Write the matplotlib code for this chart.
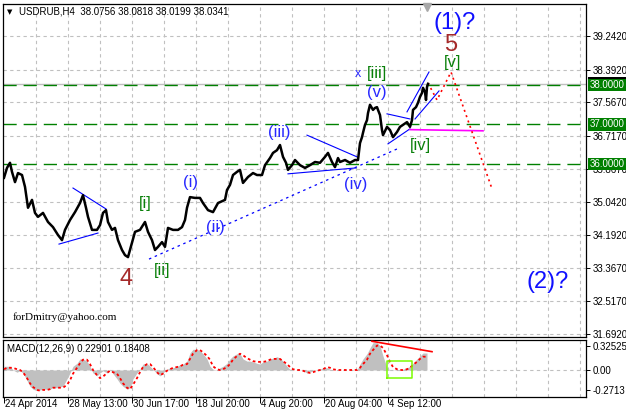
import matplotlib
matplotlib.use('Agg')
import matplotlib.pyplot as plt
from matplotlib.transforms import blended_transform_factory as btf

# ---------------- data ----------------
symbol_header = "USDRUB,H4  38.0756 38.0818 38.0199 38.0341"
macd_header = "MACD(12,26,9) 0.22901 0.18408"
watermark = "forDmitry@yahoo.com"

price_bar = [0, 6, 12, 16, 22, 28, 36, 42, 48, 56,
             62, 68, 78, 88, 98, 108, 116, 122, 132, 142,
             152, 158, 164, 168, 176, 186, 192, 198, 204, 208,
             216, 222, 228, 236, 242, 248, 256, 262, 272, 282,
             288, 296, 302, 308, 316, 322, 328, 338, 348, 356,
             362, 366, 372, 382, 392, 398, 408, 418, 428, 442,
             446, 452, 458, 466, 472, 478, 488, 498, 506, 516,
             522, 532, 538, 546, 552, 558, 564, 568, 576, 582,
             592, 602, 612, 622, 632, 642, 648, 656, 662, 668,
             672, 682, 692, 702, 708, 712, 716, 718, 722, 726,
             728, 732, 738, 742, 746, 748, 752, 756, 758, 766,
             772, 778, 786, 792, 798, 806, 812, 816, 818, 824,
             828, 832, 836, 838, 842, 844, 846, 848]
price_close = [35.65, 35.90, 36.03, 35.80, 35.54, 35.77, 35.72, 35.42, 34.89, 35.09,
               34.76, 34.66, 34.76, 34.53, 34.40, 34.20, 34.07, 34.33, 34.58, 34.78,
               35.01, 35.21, 34.89, 34.66, 34.33, 34.33, 34.45, 34.76, 34.83, 34.53,
               34.33, 34.38, 34.07, 33.82, 33.69, 33.64, 34.00, 34.28, 34.33, 34.53,
               34.28, 34.07, 33.82, 33.90, 34.02, 33.90, 34.38, 34.33, 34.33, 34.40,
               34.58, 34.89, 35.16, 35.14, 35.14, 35.01, 34.83, 34.78, 35.01, 35.09,
               35.34, 35.47, 35.72, 35.80, 35.85, 35.52, 35.67, 35.77, 35.72, 35.72,
               35.97, 36.15, 36.28, 36.35, 36.48, 36.18, 36.03, 35.85, 35.97, 36.10,
               35.97, 35.90, 35.97, 36.05, 36.03, 36.18, 36.28, 36.05, 35.92, 36.15,
               36.05, 36.10, 36.03, 36.10, 36.10, 36.53, 36.68, 36.79, 36.99, 37.11,
               37.29, 37.50, 37.37, 37.42, 37.44, 37.37, 37.24, 36.86, 36.73, 36.94,
               36.86, 36.68, 36.81, 36.94, 36.99, 37.06, 36.94, 37.11, 37.37, 37.44,
               37.55, 37.70, 37.80, 37.93, 37.82, 37.62, 37.95, 38.03]
bid_price = 38.0341

levels = [38.0, 37.0, 36.0]
price_ticks = [39.242, 38.392, 37.567, 36.717, 35.867, 35.042, 34.192, 33.367, 32.517, 31.692]

date_bars = [0, 128, 256, 384, 512, 640, 768]
date_labels = ["24 Apr 2014", "28 May 13:00", "30 Jun 17:00", "18 Jul 20:00",
               "4 Aug 20:00", "20 Aug 04:00", "4 Sep 12:00"]
grid_bars = list(range(64, 1153, 64))

forecast_bar = [848, 866, 894, 976]
forecast_price = [38.05, 37.62, 38.33, 35.37]

# blue trend lines: (bar0, price0, bar1, price1)
trend_solid = [(138, 35.39, 204, 34.86), (110, 33.97, 188, 34.25),
               (606, 36.73, 706, 36.18), (568, 35.75, 704, 35.90),
               (766, 37.27, 812, 37.14), (768, 36.51, 812, 36.89),
               (806, 37.32, 850, 38.33), (822, 37.14, 870, 37.85)]
trend_dotted = [(290, 33.59, 786, 36.38)]
magenta_line = (812, 36.87, 958, 36.84)

# wave labels: text, bar, price, kind
wave_labels = [("(1)?", 902, 39.58, "big_blue"), ("5", 894, 39.02, "big_red"),
               ("[v]", 898, 38.58, "green"), ("x", 708, 38.27, "small_blue"),
               ("[iii]", 746, 38.28, "green"), ("(v)", 746, 37.80, "blue"),
               ("[iv]", 832, 36.46, "green"), ("(iii)", 550, 36.79, "blue"),
               ("(iv)", 704, 35.49, "blue"), ("(i)", 372, 35.54, "blue"),
               ("(ii)", 422, 34.38, "blue"), ("[i]", 282, 34.99, "green"),
               ("[ii]", 316, 33.31, "green"), ("4", 244, 33.09, "big_red"),
               ("(2)?", 1088, 33.01, "big_blue")]

macd_bar = [0, 6, 12, 18, 26, 32, 38, 46, 52, 58,
            66, 72, 78, 86, 92, 98, 106, 112, 118, 126,
            132, 138, 146, 152, 158, 166, 172, 178, 186, 192,
            198, 206, 212, 218, 226, 232, 238, 246, 252, 258,
            266, 272, 278, 286, 292, 298, 306, 312, 318, 326,
            332, 338, 346, 352, 358, 366, 372, 378, 386, 392,
            398, 406, 412, 418, 426, 432, 438, 446, 452, 458,
            466, 472, 478, 486, 492, 498, 506, 512, 518, 526,
            532, 538, 546, 552, 558, 566, 572, 578, 586, 592,
            598, 606, 612, 618, 626, 632, 638, 646, 652, 658,
            666, 672, 678, 686, 692, 698, 706, 712, 718, 726,
            732, 738, 746, 752, 758, 766, 772, 778, 786, 792,
            798, 806, 812, 818, 826, 832, 838, 846]
macd_hist = [0.05, 0.05, 0.05, 0.00, -0.03, -0.01, -0.04, -0.14, -0.22, -0.26,
             -0.28, -0.27, -0.26, -0.26, -0.26, -0.24, -0.24, -0.23, -0.22, -0.12,
             -0.04, 0.05, 0.09, 0.15, 0.15, 0.12, 0.05, -0.04, -0.08, -0.04,
             -0.01, -0.04, 0.01, -0.05, -0.12, -0.18, -0.22, -0.26, -0.24, -0.12,
             -0.04, 0.01, 0.08, 0.09, 0.05, 0.01, -0.05, -0.08, -0.04, 0.01,
             0.03, 0.03, 0.05, 0.07, 0.08, 0.12, 0.23, 0.28, 0.28, 0.26,
             0.22, 0.15, 0.05, 0.01, 0.00, 0.03, 0.05, 0.09, 0.15, 0.19,
             0.22, 0.22, 0.15, 0.12, 0.12, 0.11, 0.09, 0.08, 0.11, 0.12,
             0.15, 0.16, 0.18, 0.16, 0.12, 0.05, 0.01, 0.00, 0.00, 0.00,
             -0.01, -0.04, -0.03, -0.01, 0.00, 0.01, 0.03, 0.03, 0.01, 0.00,
             0.00, 0.00, 0.00, 0.00, 0.00, 0.00, 0.00, 0.08, 0.15, 0.22,
             0.30, 0.37, 0.37, 0.33, 0.19, 0.03, 0.00, 0.00, 0.01, 0.00,
             0.01, 0.03, 0.05, 0.09, 0.15, 0.19, 0.23, 0.23]
macd_signal = [0.01, 0.03, 0.03, 0.03, 0.01, 0.00, -0.03, -0.11, -0.18, -0.23,
               -0.27, -0.28, -0.27, -0.27, -0.26, -0.24, -0.24, -0.24, -0.24, -0.20,
               -0.14, -0.05, 0.03, 0.09, 0.14, 0.14, 0.08, 0.00, -0.07, -0.11,
               -0.09, -0.04, -0.01, -0.03, -0.05, -0.11, -0.18, -0.24, -0.26, -0.20,
               -0.11, -0.03, 0.04, 0.08, 0.08, 0.04, -0.03, -0.07, -0.05, -0.01,
               0.01, 0.03, 0.04, 0.05, 0.07, 0.08, 0.15, 0.22, 0.27, 0.27,
               0.24, 0.19, 0.14, 0.05, 0.01, 0.00, 0.01, 0.04, 0.08, 0.14,
               0.19, 0.22, 0.20, 0.16, 0.14, 0.12, 0.11, 0.11, 0.11, 0.12,
               0.14, 0.15, 0.15, 0.15, 0.12, 0.08, 0.04, 0.01, 0.00, 0.00,
               -0.01, -0.03, -0.04, -0.03, -0.01, 0.00, 0.01, 0.04, 0.03, 0.01,
               0.00, 0.00, 0.00, 0.00, 0.00, 0.00, 0.00, 0.03, 0.08, 0.14,
               0.22, 0.27, 0.33, 0.33, 0.30, 0.20, 0.11, 0.04, 0.01, 0.00,
               0.00, 0.01, 0.03, 0.07, 0.11, 0.15, 0.18, 0.18]
macd_ticks = [0.32525, 0.0, -0.2713]
macd_tick_labels = ["0.32525", "0.00", "-0.2713"]
macd_div_line = (736, 0.389, 856, 0.248)
macd_box = (766, -0.108, 816, 0.122)  # bar0, low, bar1, high

# ---------------- figure ----------------
W, H = 626, 412
fig = plt.figure(figsize=(W / 100, H / 100), dpi=100)
fig.patch.set_facecolor('white')
FONT = 'Liberation Sans'


def fx(px):
    return px / W


def fy(py):
    return 1 - py / H


ax = fig.add_axes([fx(3), fy(337), fx(586) - fx(3), fy(4) - fy(337)])
mx = fig.add_axes([fx(3), fy(396.5), fx(586) - fx(3), fy(339.5) - fy(396.5)])

XMIN, XMAX = -2, 1164
GRID = dict(color='#c0c0c0', lw=0.8, ls=(0, (3, 3)), zorder=0)

for a in (ax, mx):
    a.set_xlim(XMIN, XMAX)
    for s in a.spines.values():
        s.set_linewidth(0.9)
        s.set_color('black')
    for gb in grid_bars:
        a.axvline(gb, **GRID)
    a.yaxis.tick_right()
    a.tick_params(axis='y', direction='out', length=3, width=0.7, pad=1.5,
                  labelsize=7, labelfontfamily=FONT)

# main panel
ax.set_ylim(31.616, 40.053)
ax.set_yticks(price_ticks)
ax.set_yticklabels([f"{v:.4f}" for v in price_ticks])
ax.set_xticks([])
for v in price_ticks:
    ax.axhline(v, **GRID)

ax.axhline(bid_price, color='#c0c0c0', lw=1.0, zorder=1)
for lv in levels:
    ax.axhline(lv, color='#008000', lw=1.0, ls=(0, (9.5, 5)), zorder=2)

ax.plot(price_bar, price_close, color='black', lw=1.8, zorder=4)

for b0, p0, b1, p1 in trend_solid:
    ax.plot([b0, b1], [p0, p1], color='#0000ff', lw=0.8, zorder=3)
for b0, p0, b1, p1 in trend_dotted:
    ax.plot([b0, b1], [p0, p1], color='#0000ff', lw=0.9, ls=(0, (2, 3)), zorder=3)
ax.plot([magenta_line[0], magenta_line[2]], [magenta_line[1], magenta_line[3]],
        color='#ff00ff', lw=1.2, zorder=3)
ax.plot(forecast_bar, forecast_price, color='#ff0000', lw=1.2, ls=(0, (1.2, 2.2)), zorder=3)

styles = {
    'big_blue': dict(color='#1010ff', fontsize=17),
    'big_red': dict(color='#a52a2a', fontsize=17),
    'green': dict(color='#0a800a', fontsize=12),
    'blue': dict(color='#2828ff', fontsize=12),
    'small_blue': dict(color='#2828ff', fontsize=9),
}
for txt, b, p, kind in wave_labels:
    ax.text(b, p, txt, ha='center', va='center', family=FONT, zorder=6, **styles[kind])

ax.text((19 - 3) / 583, (337 - 12) / 333, symbol_header, transform=ax.transAxes,
        ha='left', va='center', fontsize=7, family=FONT, color='black')
ax.text((7 - 3) / 583, (337 - 12) / 333, '▼', transform=ax.transAxes,
        ha='left', va='center', fontsize=5, family='DejaVu Sans', color='black')
ax.text((13 - 3) / 583, (337 - 317) / 333, watermark, transform=ax.transAxes,
        ha='left', va='center', fontsize=8, family='Liberation Serif', color='black')
ax.plot([846], [0.99], marker='v', color='#a8a8a8', ms=6, transform=btf(ax.transData, ax.transAxes),
        clip_on=False, zorder=6)

tr = btf(ax.transAxes, ax.transData)
ax.text(1.006, bid_price, f"{bid_price:.4f}", transform=tr, ha='left', va='center',
        fontsize=7, family=FONT, color='white', zorder=7, clip_on=False,
        bbox=dict(boxstyle='square,pad=0.15', fc='black', ec='none'))
for lv in levels:
    ax.text(1.006, lv, f"{lv:.4f}", transform=tr, ha='left', va='center',
            fontsize=7, family=FONT, color='white', zorder=8, clip_on=False,
            bbox=dict(boxstyle='square,pad=0.15', fc='#008000', ec='none'))

# MACD panel
mx.set_ylim(-0.359, 0.413)
mx.set_yticks(macd_ticks)
mx.set_yticklabels(macd_tick_labels)
mx.axhline(0, **GRID)
mx.fill_between(macd_bar, 0, macd_hist, color='#c0c0c0', lw=0, zorder=2)
mx.plot(macd_bar, macd_signal, color='#ff0000', lw=1.3, ls=(0, (1.5, 1.5)), zorder=3)
mx.plot([macd_div_line[0], macd_div_line[2]], [macd_div_line[1], macd_div_line[3]],
        color='#ff0000', lw=1.2, zorder=4)
b0, lo, b1, hi = macd_box
mx.plot([b0, b1, b1, b0, b0], [lo, lo, hi, hi, lo], color='#7cfc00', lw=1.1, zorder=4)
mx.text((7 - 3) / 583, (396.5 - 349) / 57, macd_header, transform=mx.transAxes,
        ha='left', va='center', fontsize=7, family=FONT, color='black')

mx.set_xticks(date_bars)
mx.set_xticklabels([])
mx.tick_params(axis='x', direction='out', length=4, width=0.7)
trx = btf(mx.transData, mx.transAxes)
for b, lab in zip(date_bars, date_labels):
    mx.text(b + 2, -0.05, lab, transform=trx, ha='left', va='top', fontsize=7,
            family=FONT, color='black', clip_on=False)

fig.savefig('out.png', dpi=100)
